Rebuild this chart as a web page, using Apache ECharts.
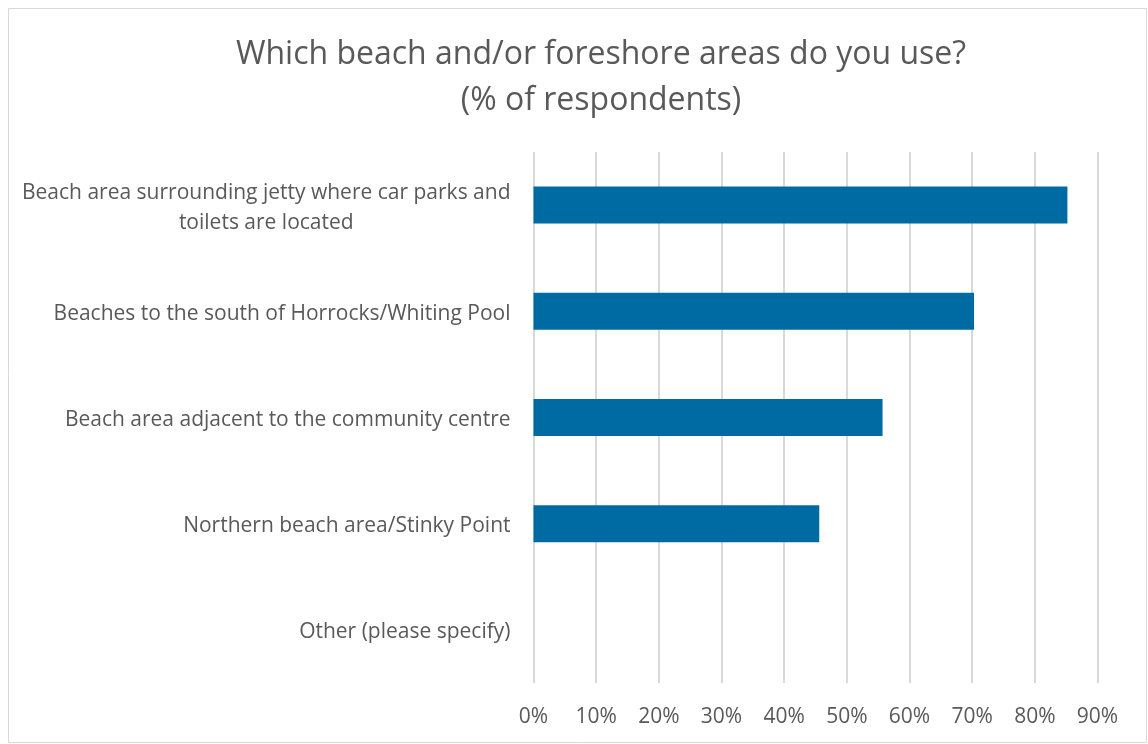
<!DOCTYPE html>
<html>
<head>
<meta charset="utf-8">
<title>Which beach and/or foreshore areas do you use?</title>
<script src="https://cdn.jsdelivr.net/npm/echarts@6/dist/echarts.min.js"></script>
<style>
  html, body { margin: 0; padding: 0; background: #ffffff; }
  #chart { width: 1148px; height: 744px; }
</style>
</head>
<body>
<div id="chart"></div>
<script>
// Survey answers, top to bottom
const categories = [
  'Beach area surrounding jetty where car parks and\ntoilets are located',
  'Beaches to the south of Horrocks/Whiting Pool',
  'Beach area adjacent to the community centre',
  'Northern beach area/Stinky Point',
  'Other (please specify)'
];
// Share of respondents (%)
const respondentsPct = [85.2, 70.3, 55.7, 45.6, 0];
// Value axis ticks (%)
const axisMin = 0;
const axisMax = 90;
const axisStep = 10;

const FONT = '"Open Sans", Lato, sans-serif';
const TEXT = '#595959';

const chart = echarts.init(document.getElementById('chart'), null, { renderer: 'canvas' });

chart.setOption({
  backgroundColor: '#ffffff',
  animation: false,
  title: {
    text: 'Which beach and/or foreshore areas do you use?\n(% of respondents)',
    left: 596,
    top: 27,
    textAlign: 'center',
    textStyle: {
      fontFamily: FONT,
      fontSize: 32,
      fontWeight: 'normal',
      color: TEXT,
      lineHeight: 46
    }
  },
  graphic: [{
    type: 'rect',
    shape: { x: 8.5, y: 8.5, width: 1138, height: 734 },
    style: { fill: 'none', stroke: '#d9d9d9', lineWidth: 1 },
    silent: true
  }],
  grid: {
    left: 533.5,
    right: 1148 - 1097.5,
    top: 152,
    bottom: 744 - 683
  },
  xAxis: {
    type: 'value',
    min: axisMin,
    max: axisMax,
    interval: axisStep,
    axisLine: { show: false },
    axisTick: { show: false },
    splitLine: { show: true, lineStyle: { color: '#d9d9d9', width: 2 } },
    axisLabel: {
      formatter: '{value}%',
      margin: 24,
      fontFamily: FONT,
      fontSize: 21,
      color: TEXT
    }
  },
  yAxis: {
    type: 'category',
    data: categories,
    inverse: true,
    axisLine: { show: false },
    axisTick: { show: false },
    splitLine: { show: false },
    axisLabel: {
      margin: 23,
      padding: [5, 0, 0, 0],
      fontFamily: FONT,
      fontSize: 21,
      color: TEXT,
      lineHeight: 30,
      formatter: function (v) {
        return v.split('\n').map(function (s) { return '{c|' + s + '}'; }).join('\n');
      },
      rich: {
        c: { align: 'center', fontFamily: FONT, fontSize: 21, color: TEXT, lineHeight: 30 }
      }
    }
  },
  series: [{
    type: 'bar',
    data: respondentsPct,
    barWidth: 37,
    itemStyle: { color: '#006ba3' },
    silent: true
  }]
});
</script>
</body>
</html>
